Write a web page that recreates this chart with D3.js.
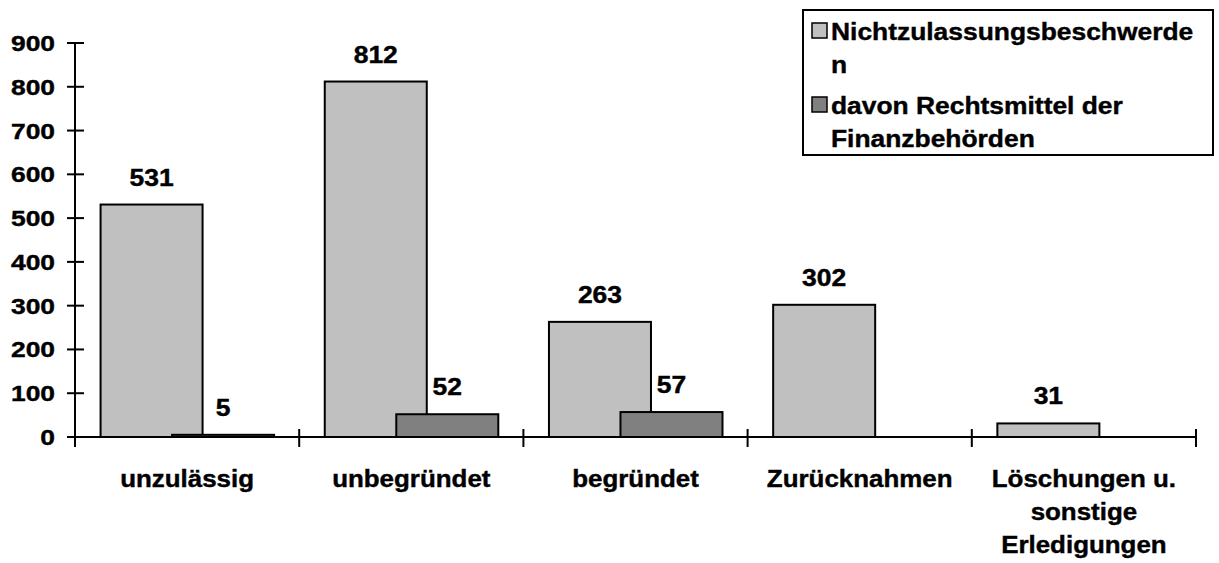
<!DOCTYPE html>
<html>
<head>
<meta charset="utf-8">
<script src="https://cdn.jsdelivr.net/npm/d3@7"></script>
<style>
  body { margin: 0; background: #fff; }
  text { font-family: "Liberation Sans", Arial, sans-serif; font-weight: bold; fill: #000; stroke: #000; stroke-width: 0.4px; }
</style>
</head>
<body>
<svg id="chart" width="1219" height="563"></svg>
<script>
// ---- data ----
const categories = ["unzulässig", "unbegründet", "begründet", "Zurücknahmen", "Löschungen u. sonstige Erledigungen"];
const categoryLines = [["unzulässig"], ["unbegründet"], ["begründet"], ["Zurücknahmen"], ["Löschungen u.", "sonstige", "Erledigungen"]];
const seriesNames = ["Nichtzulassungsbeschwerden", "davon Rechtsmittel der Finanzbehörden"];
const legendLines = [["Nichtzulassungsbeschwerde", "n"], ["davon Rechtsmittel der", "Finanzbehörden"]];
const nzbValues = [531, 812, 263, 302, 31];
const rmValues = [5, 52, 57, null, null];
const yTicks = [0, 100, 200, 300, 400, 500, 600, 700, 800, 900];
const seriesColors = ["#c0c0c0", "#808080"];

const svg = d3.select("#chart");

// ---- scales ----
const x = d3.scaleBand().domain(categories).range([75, 1196]).padding(0);
const y = d3.scaleLinear().domain([0, 900]).range([437, 43]);
const bw = x.bandwidth();
const barW = bw * 0.455;
const barOffset = [bw * 0.114, bw * 0.433];

// stretched text helper (the original glyphs are a bit wider than plain Arial)
function label(g, tx, ty, str, size, sx, anchor) {
  return g.append("text")
    .attr("transform", `translate(${tx},${ty}) scale(${sx},1)`)
    .attr("text-anchor", anchor || "middle")
    .style("font-size", size + "px")
    .text(str);
}

// ---- bars ----
const series = [nzbValues, rmValues];
series.forEach((vals, si) => {
  const g = svg.append("g");
  categories.forEach((c, i) => {
    const v = vals[i];
    if (v == null) return;
    g.append("rect")
      .attr("x", x(c) + barOffset[si])
      .attr("y", y(v))
      .attr("width", barW)
      .attr("height", y(0) - y(v))
      .attr("fill", seriesColors[si])
      .attr("stroke", "#000")
      .attr("stroke-width", 2);
  });
});

// ---- axes ----
const axisG = svg.append("g");
axisG.append("line")
  .attr("x1", 75).attr("x2", 75)
  .attr("y1", y(900)).attr("y2", y(0) + 10)
  .attr("stroke", "#000").attr("stroke-width", 2);
axisG.append("line")
  .attr("x1", 75).attr("x2", 1196)
  .attr("y1", y(0)).attr("y2", y(0))
  .attr("stroke", "#000").attr("stroke-width", 2);

yTicks.forEach(t => {
  axisG.append("line")
    .attr("x1", 67).attr("x2", 84)
    .attr("y1", y(t)).attr("y2", y(t))
    .attr("stroke", "#000").attr("stroke-width", 2);
  label(axisG, 55, y(t) + 8, t, 22, 1.2, "end");
});

// category boundary ticks
const bounds = categories.map(c => x(c)).concat([x.range()[1]]);
bounds.forEach(bx => {
  axisG.append("line")
    .attr("x1", bx).attr("x2", bx)
    .attr("y1", y(0) - 8).attr("y2", y(0) + 10)
    .attr("stroke", "#000").attr("stroke-width", 2);
});

// category labels
categories.forEach((c, i) => {
  categoryLines[i].forEach((ln, k) => {
    label(axisG, x(c) + bw / 2, 487 + k * 33, ln, 24, 1.08);
  });
});

// ---- value labels ----
series.forEach((vals, si) => {
  categories.forEach((c, i) => {
    const v = vals[i];
    if (v == null) return;
    label(svg, x(c) + barOffset[si] + barW / 2, y(v) - 19, v, 23, 1.15);
  });
});

// ---- legend ----
const lg = svg.append("g");
lg.append("rect")
  .attr("x", 803).attr("y", 10)
  .attr("width", 410).attr("height", 145)
  .attr("fill", "#fff").attr("stroke", "#000").attr("stroke-width", 2);
const legendTop = [40, 114];
seriesNames.forEach((s, si) => {
  lg.append("rect")
    .attr("x", 812).attr("y", legendTop[si] - 17)
    .attr("width", 15).attr("height", 15)
    .attr("fill", seriesColors[si])
    .attr("stroke", "#000").attr("stroke-width", 1.5);
  legendLines[si].forEach((ln, k) => {
    label(lg, 831, legendTop[si] + k * 33, ln, 24, 1.1, "start");
  });
});
</script>
</body>
</html>
